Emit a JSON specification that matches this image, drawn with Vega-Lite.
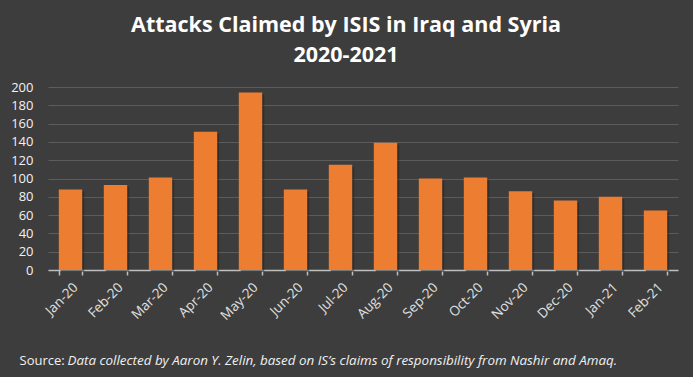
{
  "$schema": "https://vega.github.io/schema/vega-lite/v6.json",
  "width": 630,
  "height": 183,
  "autosize": {"type": "none"},
  "padding": {"left": 48, "top": 87, "right": 15, "bottom": 107},
  "background": "#3d3d3d",
  "config": {
    "font": "Open Sans",
    "view": {"stroke": null},
    "axis": {"labelFont": "Open Sans", "titleFont": "Open Sans"}
  },
  "title": {
    "text": ["Attacks Claimed by ISIS in Iraq and Syria", "2020-2021"],
    "font": "Open Sans",
    "fontSize": 21.5,
    "fontWeight": "bold",
    "color": "#ffffff",
    "anchor": "middle",
    "frame": "group",
    "dx": -17,
    "lineHeight": 30,
    "offset": 15
  },
  "data": {
    "values": [
      {"month": "Jan-20", "attacks": 88},
      {"month": "Feb-20", "attacks": 93},
      {"month": "Mar-20", "attacks": 101},
      {"month": "Apr-20", "attacks": 151},
      {"month": "May-20", "attacks": 194},
      {"month": "Jun-20", "attacks": 88},
      {"month": "Jul-20", "attacks": 115},
      {"month": "Aug-20", "attacks": 139},
      {"month": "Sep-20", "attacks": 100},
      {"month": "Oct-20", "attacks": 101},
      {"month": "Nov-20", "attacks": 86},
      {"month": "Dec-20", "attacks": 76},
      {"month": "Jan-21", "attacks": 80},
      {"month": "Feb-21", "attacks": 65}
    ]
  },
  "resolve": {"axis": {"x": "independent"}},
  "layer": [
    {
      "mark": {"type": "bar", "color": "#1e1e1e", "opacity": 0.45, "xOffset": 2, "yOffset": 2},
      "encoding": {
        "x": {
          "field": "month", "type": "nominal", "sort": null,
          "scale": {"paddingInner": 0.48, "paddingOuter": 0.24},
          "axis": {
            "orient": "bottom",
            "labels": false, "ticks": false, "domain": false, "grid": false,
            "title": "Data collected by Aaron Y. Zelin, based on IS’s claims of responsibility from Nashir and Amaq.",
            "titleFontStyle": "italic",
            "titleFontWeight": "normal",
            "titleFontSize": 13.4,
            "titleColor": "#f0f0f0",
            "titleX": 19,
            "titleY": 94,
            "titleAlign": "left",
            "titleAnchor": "start",
            "titleBaseline": "alphabetic"
          }
        },
        "y": {
          "field": "attacks", "type": "quantitative",
          "scale": {"domain": [0, 200]},
          "axis": {
            "values": [0, 20, 40, 60, 80, 100, 120, 140, 160, 180, 200],
            "labelOverlap": false,
            "domain": false, "ticks": false,
            "grid": true, "gridColor": "#5c5c5c", "gridWidth": 1,
            "labelColor": "#f2f2f2", "labelFontSize": 13, "labelPadding": 15,
            "title": null
          }
        }
      }
    },
    {
      "mark": {"type": "bar", "color": "#ED7D31"},
      "encoding": {
        "x": {
          "field": "month", "type": "nominal", "sort": null,
          "axis": {
            "orient": "bottom",
            "labelAngle": -45,
            "labelColor": "#e0e0e0",
            "labelFontSize": 13.5,
            "labelPadding": 5,
            "domainColor": "#bfbfbf",
            "domainWidth": 1.5,
            "tickColor": "#bfbfbf",
            "tickSize": 5,
            "tickWidth": 1.5,
            "tickBand": "extent",
            "grid": false,
            "title": "Source:",
            "titleFontWeight": "normal",
            "titleFontSize": 13,
            "titleColor": "#f0f0f0",
            "titleX": -29,
            "titleY": 94,
            "titleAlign": "left",
            "titleAnchor": "start",
            "titleBaseline": "alphabetic"
          }
        },
        "y": {
          "field": "attacks", "type": "quantitative",
          "axis": {
            "values": [0, 20, 40, 60, 80, 100, 120, 140, 160, 180, 200],
            "labelOverlap": false,
            "domain": false, "ticks": false,
            "grid": true, "gridColor": "#5c5c5c", "gridWidth": 1,
            "labelColor": "#f2f2f2", "labelFontSize": 13, "labelPadding": 15,
            "title": null
          }
        }
      }
    }
  ]
}
